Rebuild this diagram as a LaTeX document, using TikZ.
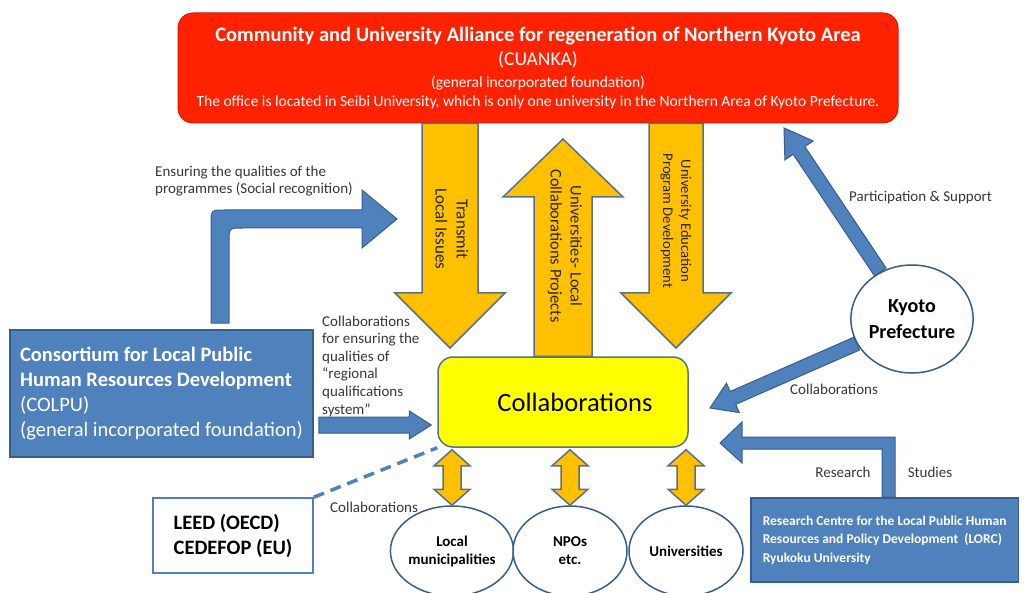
\documentclass[tikz,border=0pt]{standalone}
\usepackage{fontspec}
\setmainfont{Carlito}
\usetikzlibrary{calc,shapes.geometric}

\definecolor{cuankared}{RGB}{255,34,0}
\definecolor{cuankaedge}{RGB}{205,30,10}
\definecolor{amber}{RGB}{255,192,0}
\definecolor{amberedge}{RGB}{88,112,140}
\definecolor{collabyellow}{RGB}{255,255,0}
\definecolor{steel}{RGB}{79,129,189}
\definecolor{steeledge}{RGB}{56,93,138}
\definecolor{labelgrey}{RGB}{55,55,55}

% block arrow: [style]{from}{tip}{half shaft}{half head}{head length}
\newcommand{\fatarrow}[6][]{%
  \coordinate (fa-b) at ($(#3)!#6!(#2)$);
  \draw[#1] ($(#2)!#4!90:(#3)$) -- ($(fa-b)!#4!90:(#3)$) -- ($(fa-b)!#5!90:(#3)$)
    -- (#3) -- ($(fa-b)!#5!-90:(#3)$) -- ($(fa-b)!#4!-90:(#3)$)
    -- ($(#2)!#4!-90:(#3)$) -- cycle;}
% block arrow with two heads
\newcommand{\dblarrow}[6][]{%
  \coordinate (da-a) at ($(#2)!#6!(#3)$);
  \coordinate (da-b) at ($(#3)!#6!(#2)$);
  \draw[#1] (#2) -- ($(da-a)!#5!90:(#3)$) -- ($(da-a)!#4!90:(#3)$)
    -- ($(da-b)!#4!90:(#3)$) -- ($(da-b)!#5!90:(#3)$) -- (#3)
    -- ($(da-b)!#5!-90:(#3)$) -- ($(da-b)!#4!-90:(#3)$)
    -- ($(da-a)!#4!-90:(#3)$) -- ($(da-a)!#5!-90:(#3)$) -- cycle;}

\tikzset{
  redbox/.style={draw=cuankaedge, fill=cuankared, rounded corners=15pt, text=white, line width=1pt},
  bluebox/.style={draw=steeledge, fill=steel, text=white, line width=1.5pt},
  yarrow/.style={draw=amberedge, fill=amber, line width=1.5pt},
  barrow/.style={draw=steeledge, fill=steel, line width=1pt},
  bubble/.style={ellipse, draw=steeledge, fill=white, line width=1.5pt, inner sep=0pt,
    align=center, font=\fontsize{15}{18}\selectfont\bfseries},
  lbl/.style={text=labelgrey, font=\fontsize{15}{17.6}\selectfont, inner sep=0pt, align=left},
  arrowtext/.style={rotate=-90, align=center, text=black!85},
}

\begin{document}
\begin{tikzpicture}[x=1pt,y=-1pt]
\path[use as bounding box, clip] (0,0) rectangle (1035,593);

% Boxes
\node[redbox, minimum width=720, minimum height=110, align=center,
  font=\fontsize{15.5}{19}\selectfont] (cuanka) at (538,68)
  {{\fontsize{20.5}{20}\selectfont\bfseries Community and University Alliance for regeneration of Northern Kyoto Area}\\[5pt]
   {\fontsize{19.5}{20}\selectfont (CUANKA)}\\[3pt]
   (general incorporated foundation)\\
   The office is located in Seibi University, which is only one university in the Northern Area of Kyoto Prefecture.};
\node[rounded corners=15pt, draw=amberedge, fill=collabyellow, line width=1.5pt,
  minimum width=250, minimum height=90, font=\fontsize{26.5}{28}\selectfont] (collab) at (563,402)
  {\hspace*{24pt}Collaborations};
\node[bluebox, minimum width=303, minimum height=127, align=left,
  font=\fontsize{20.5}{25}\selectfont] (colpu) at (161.5,393.5)
  {\textbf{Consortium for Local Public}\\ \textbf{Human Resources Development}\\ (COLPU)\\ (general incorporated foundation)};
\node[draw=steel, fill=white, line width=1.5pt, minimum width=160, minimum height=75, align=left,
  font=\fontsize{20.5}{25}\selectfont\bfseries] (leed) at (233,535.5) {LEED (OECD)\\CEDEFOP (EU)};
\node[bluebox, anchor=west, minimum height=84, inner xsep=12pt, align=left,
  font=\fontsize{13.5}{18.5}\selectfont\bfseries] (lorc) at (750,540)
  {Research Centre for the Local Public Human\\Resources and Policy Development~ (LORC)\\Ryukoku University};
\node[ellipse, draw=steeledge, fill=white, line width=1.5pt, minimum width=118, minimum height=108,
  inner sep=0pt, align=center, font=\fontsize{20}{26}\selectfont\bfseries] (kyoto) at (912,319) {Kyoto\\Prefecture};
\node[bubble, minimum width=114, minimum height=90] (muni) at (452,551) {Local\\municipalities};
\node[bubble, minimum width=114, minimum height=90] (npo) at (570,551) {NPOs\\etc.};
\node[bubble, minimum width=114, minimum height=90] (univ) at (686,551) {Universities};

% Yellow arrows
\coordinate (issues tip) at (450,348);
\coordinate (issues top) at (cuanka.south -| issues tip);
\fatarrow[yarrow]{issues top}{issues tip}{28pt}{55pt}{55pt}
\coordinate (projects tip) at (563,139);
\fatarrow[yarrow]{collab.north}{projects tip}{29pt}{60pt}{58pt}
\coordinate (program tip) at (676,348);
\coordinate (program top) at (cuanka.south -| program tip);
\fatarrow[yarrow]{program top}{program tip}{27pt}{55pt}{55pt}
\node[arrowtext, font=\fontsize{17}{21}\selectfont] (issues) at (452,229) {Transmit\\Local Issues};
\node[arrowtext, font=\fontsize{16.4}{20}\selectfont] (projects) at (565,246) {Universities- Local\\Collaborations Projects};
\node[arrowtext, font=\fontsize{14.7}{18}\selectfont] (program) at (676,221) {University Education\\Program Development};

\foreach \n in {muni,npo,univ}{
  \coordinate (\n top) at ($(collab.south -| \n.north)+(0,2)$);
  \dblarrow[yarrow]{\n top}{\n.north}{9pt}{18pt}{16pt}
}

% Blue arrows
\draw[barrow] (211,323) -- (211,224) .. controls (211,210) .. (225,210) -- (362,210) -- (362,190)
  -- (397,219) -- (362,248) -- (362,228) -- (243,228) .. controls (229,228) .. (229,242) -- (229,323) -- cycle;
\draw[barrow] (882,497) -- (882,449) -- (742,449) -- (742,463) -- (720,443) -- (742,422)
  -- (742,437) -- (895,437) -- (895,497) -- cycle;
\coordinate (colpu tip) at ($(collab.west |- 0,425)+(-6,0)$);
\coordinate (colpu out) at ($(colpu.east |- 0,425)+(5,0)$);
\fatarrow[barrow]{colpu out}{colpu tip}{8pt}{14pt}{22pt}
\coordinate (support tip) at (784,128);
\fatarrow[barrow]{kyoto.124}{support tip}{7pt}{17pt}{27pt}
\coordinate (kyoto tip) at (710,408);
\fatarrow[barrow]{kyoto.204}{kyoto tip}{7pt}{16pt}{25pt}
\draw[steel, line width=3.5pt, dash pattern=on 11pt off 7pt] (leed.north east) -- (collab.south west);

% Labels
\node[lbl, anchor=west] (quality) at (155,181) {Ensuring the qualities of the\\programmes (Social recognition)};
\node[lbl, anchor=west] (regional) at (322,366) {Collaborations\\for ensuring the\\qualities of\\“regional\\qualifications\\system”};
\node[lbl, anchor=west] (support) at (849,198) {Participation \& Support};
\node[lbl, anchor=west] (kyotolink) at (790,389) {Collaborations};
\node[lbl] (research) at (843,472) {Research};
\node[lbl] (studies) at (930,472) {Studies};
\node[lbl, anchor=west] (leedlink) at (330,507) {Collaborations};
\end{tikzpicture}
\end{document}
